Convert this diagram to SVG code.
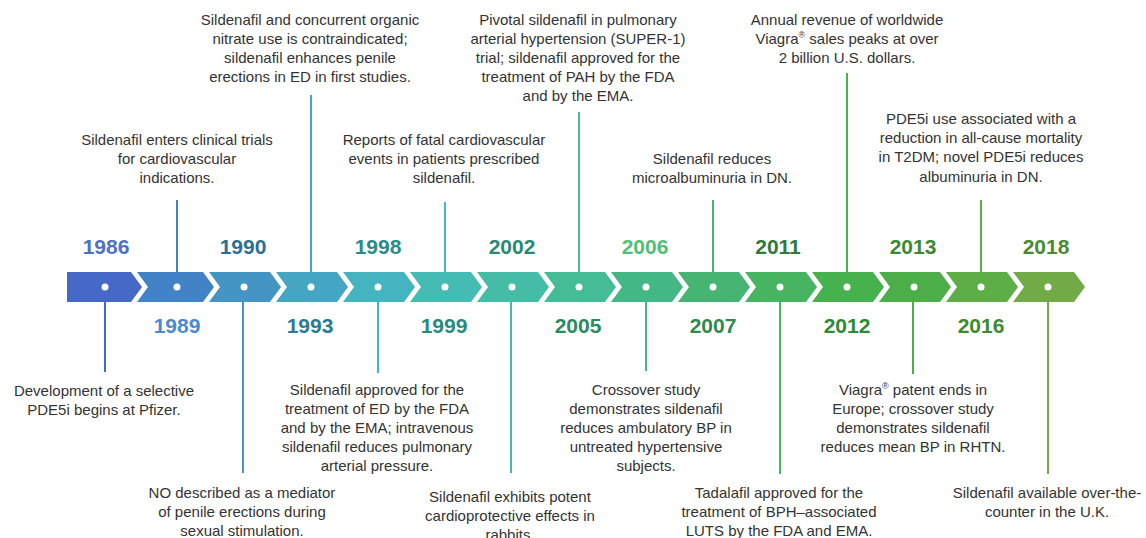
<svg xmlns="http://www.w3.org/2000/svg" width="1146" height="538" viewBox="0 0 1146 538">
<style>
.t{font-family:"Liberation Sans",Arial,sans-serif;font-size:15px;fill:#333;text-anchor:middle}
.y{font-family:"Liberation Sans",Arial,sans-serif;font-size:21px;font-weight:bold;text-anchor:middle}
.dot{fill:#fff}
.ln{stroke-width:2;fill:none}
</style>
<rect width="1146" height="538" fill="#fff"/>
<g id="band">
<path d="M67,272 H131 L142,287 L131,302 H67 Z" fill="#4668c6"/>
<path d="M137,272 H203 L214,287 L203,302 H137 L148,287 Z" fill="#4282c6"/>
<path d="M209,272 H270 L281,287 L270,302 H209 L220,287 Z" fill="#4494c4"/>
<path d="M276,272 H337 L348,287 L337,302 H276 L287,287 Z" fill="#44a6c2"/>
<path d="M343,272 H404 L415,287 L404,302 H343 L354,287 Z" fill="#44b4c0"/>
<path d="M410,272 H471 L482,287 L471,302 H410 L421,287 Z" fill="#44bcb4"/>
<path d="M477,272 H538 L549,287 L538,302 H477 L488,287 Z" fill="#44bca6"/>
<path d="M544,272 H605 L616,287 L605,302 H544 L555,287 Z" fill="#44bc96"/>
<path d="M611,272 H672 L683,287 L672,302 H611 L622,287 Z" fill="#44b884"/>
<path d="M678,272 H739 L750,287 L739,302 H678 L689,287 Z" fill="#46b472"/>
<path d="M745,272 H806 L817,287 L806,302 H745 L756,287 Z" fill="#46b460"/>
<path d="M812,272 H873 L884,287 L873,302 H812 L823,287 Z" fill="#46b24e"/>
<path d="M879,272 H940 L951,287 L940,302 H879 L890,287 Z" fill="#4cae48"/>
<path d="M946,272 H1007 L1018,287 L1007,302 H946 L957,287 Z" fill="#5eae48"/>
<path d="M1013,272 H1074 L1085,287 L1074,302 H1013 L1024,287 Z" fill="#72aa48"/>
<circle class="dot" cx="105" cy="287" r="3.5"/>
<circle class="dot" cx="177" cy="287" r="3.5"/>
<circle class="dot" cx="244" cy="287" r="3.5"/>
<circle class="dot" cx="311" cy="287" r="3.5"/>
<circle class="dot" cx="378" cy="287" r="3.5"/>
<circle class="dot" cx="445" cy="287" r="3.5"/>
<circle class="dot" cx="512" cy="287" r="3.5"/>
<circle class="dot" cx="579" cy="287" r="3.5"/>
<circle class="dot" cx="646" cy="287" r="3.5"/>
<circle class="dot" cx="713" cy="287" r="3.5"/>
<circle class="dot" cx="780" cy="287" r="3.5"/>
<circle class="dot" cx="847" cy="287" r="3.5"/>
<circle class="dot" cx="914" cy="287" r="3.5"/>
<circle class="dot" cx="981" cy="287" r="3.5"/>
<circle class="dot" cx="1048" cy="287" r="3.5"/>
</g>
<g id="connectors">
<line class="ln" x1="105" y1="302" x2="105" y2="372" stroke="#4668c6"/>
<line class="ln" x1="177" y1="272" x2="177" y2="200" stroke="#4282c6"/>
<line class="ln" x1="243" y1="302" x2="243" y2="473" stroke="#4494c4"/>
<line class="ln" x1="311" y1="272" x2="311" y2="95" stroke="#44a6c2"/>
<line class="ln" x1="378" y1="302" x2="378" y2="373" stroke="#44b4c0"/>
<line class="ln" x1="445" y1="272" x2="445" y2="202" stroke="#44bcb4"/>
<line class="ln" x1="511" y1="302" x2="511" y2="473" stroke="#44bca6"/>
<line class="ln" x1="579" y1="272" x2="579" y2="112" stroke="#44bc96"/>
<line class="ln" x1="646" y1="302" x2="646" y2="371" stroke="#44b884"/>
<line class="ln" x1="713" y1="272" x2="713" y2="200" stroke="#46b472"/>
<line class="ln" x1="780" y1="302" x2="780" y2="474" stroke="#46b460"/>
<line class="ln" x1="847" y1="272" x2="847" y2="73" stroke="#46b24e"/>
<line class="ln" x1="913" y1="302" x2="913" y2="374" stroke="#4cae48"/>
<line class="ln" x1="981" y1="272" x2="981" y2="200" stroke="#5eae48"/>
<line class="ln" x1="1048" y1="302" x2="1048" y2="474" stroke="#72aa48"/>
</g>
<g id="e1986">
<text class="y" x="106" y="254" fill="#4d70c9">1986</text>
<text class="t" x="104" y="396">Development of a selective</text>
<text class="t" x="104" y="415">PDE5i begins at Pfizer.</text>
</g>
<g id="e1989">
<text class="y" x="177" y="333" fill="#4a8ad0">1989</text>
<text class="t" x="177" y="145">Sildenafil enters clinical trials</text>
<text class="t" x="177" y="164">for cardiovascular</text>
<text class="t" x="177" y="183">indications.</text>
</g>
<g id="e1990">
<text class="y" x="243" y="254" fill="#2c6e96">1990</text>
<text class="t" x="242" y="498">NO described as a mediator</text>
<text class="t" x="242" y="517">of penile erections during</text>
<text class="t" x="242" y="536">sexual stimulation.</text>
</g>
<g id="e1993">
<text class="y" x="310" y="333" fill="#2a7b95">1993</text>
<text class="t" x="310" y="25">Sildenafil and concurrent organic</text>
<text class="t" x="310" y="44">nitrate use is contraindicated;</text>
<text class="t" x="310" y="63">sildenafil enhances penile</text>
<text class="t" x="310" y="82">erections in ED in first studies.</text>
</g>
<g id="e1998">
<text class="y" x="378" y="254" fill="#2a8a8c">1998</text>
<text class="t" x="377" y="395">Sildenafil approved for the</text>
<text class="t" x="377" y="414">treatment of ED by the FDA</text>
<text class="t" x="377" y="433">and by the EMA; intravenous</text>
<text class="t" x="377" y="452">sildenafil reduces pulmonary</text>
<text class="t" x="377" y="471">arterial pressure.</text>
</g>
<g id="e1999">
<text class="y" x="444" y="333" fill="#288a80">1999</text>
<text class="t" x="444" y="145">Reports of fatal cardiovascular</text>
<text class="t" x="444" y="164">events in patients prescribed</text>
<text class="t" x="444" y="183">sildenafil.</text>
</g>
<g id="e2002">
<text class="y" x="512" y="254" fill="#2a8a70">2002</text>
<text class="t" x="510" y="502">Sildenafil exhibits potent</text>
<text class="t" x="510" y="521">cardioprotective effects in</text>
<text class="t" x="510" y="540">rabbits.</text>
</g>
<g id="e2005">
<text class="y" x="578" y="333" fill="#2a8a62">2005</text>
<text class="t" x="578" y="25">Pivotal sildenafil in pulmonary</text>
<text class="t" x="578" y="44">arterial hypertension (SUPER-1)</text>
<text class="t" x="578" y="63">trial; sildenafil approved for the</text>
<text class="t" x="578" y="82">treatment of PAH by the FDA</text>
<text class="t" x="578" y="101">and by the EMA.</text>
</g>
<g id="e2006">
<text class="y" x="645" y="254" fill="#50bf78">2006</text>
<text class="t" x="646" y="395">Crossover study</text>
<text class="t" x="646" y="414">demonstrates sildenafil</text>
<text class="t" x="646" y="433">reduces ambulatory BP in</text>
<text class="t" x="646" y="452">untreated hypertensive</text>
<text class="t" x="646" y="471">subjects.</text>
</g>
<g id="e2007">
<text class="y" x="713" y="333" fill="#2e8a4e">2007</text>
<text class="t" x="712" y="164">Sildenafil reduces</text>
<text class="t" x="712" y="183">microalbuminuria in DN.</text>
</g>
<g id="e2011">
<text class="y" x="778" y="254" fill="#2e7a3a">2011</text>
<text class="t" x="779" y="498">Tadalafil approved for the</text>
<text class="t" x="779" y="517">treatment of BPH–associated</text>
<text class="t" x="779" y="536">LUTS by the FDA and EMA.</text>
</g>
<g id="e2012">
<text class="y" x="847" y="333" fill="#2e8a34">2012</text>
<text class="t" x="847" y="25">Annual revenue of worldwide</text>
<text class="t" x="847" y="44">Viagra<tspan font-size="9" dy="-6">®</tspan><tspan dy="6"> sales peaks at over</tspan></text>
<text class="t" x="847" y="63">2 billion U.S. dollars.</text>
</g>
<g id="e2013">
<text class="y" x="913" y="254" fill="#3a8a32">2013</text>
<text class="t" x="913" y="395">Viagra<tspan font-size="9" dy="-6">®</tspan><tspan dy="6"> patent ends in</tspan></text>
<text class="t" x="913" y="414">Europe; crossover study</text>
<text class="t" x="913" y="433">demonstrates sildenafil</text>
<text class="t" x="913" y="452">reduces mean BP in RHTN.</text>
</g>
<g id="e2016">
<text class="y" x="981" y="333" fill="#3d8a30">2016</text>
<text class="t" x="981" y="124">PDE5i use associated with a</text>
<text class="t" x="981" y="143">reduction in all-cause mortality</text>
<text class="t" x="981" y="162">in T2DM; novel PDE5i reduces</text>
<text class="t" x="981" y="182">albuminuria in DN.</text>
</g>
<g id="e2018">
<text class="y" x="1046" y="254" fill="#4a8a30">2018</text>
<text class="t" x="1047" y="498">Sildenafil available over-the-</text>
<text class="t" x="1047" y="517">counter in the U.K.</text>
</g>
</svg>
